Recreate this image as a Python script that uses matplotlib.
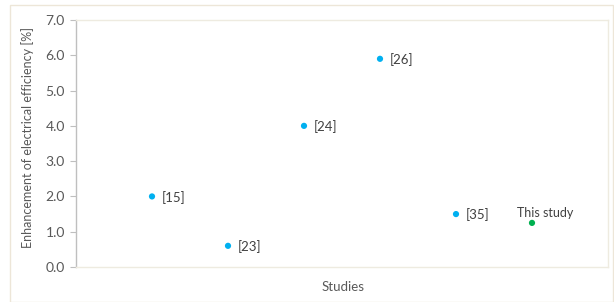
import matplotlib
matplotlib.use("Agg")
import matplotlib.pyplot as plt
from matplotlib.patches import Rectangle

plt.rcParams['font.family'] = ['Lato', 'DejaVu Sans']

studies = ["[15]", "[23]", "[24]", "[26]", "[35]", "This study"]
x_pos = [1, 2, 3, 4, 5, 6]
enh = [2.0, 0.6, 4.0, 5.9, 1.5, 1.25]
colors = ["#00B0F0"] * 5 + ["#00B050"]
yticks = [0.0, 1.0, 2.0, 3.0, 4.0, 5.0, 6.0, 7.0]

fig = plt.figure(figsize=(6.14, 3.02), dpi=100)
W, H = 614, 302
ax = fig.add_axes([76 / W, 1 - 267 / H, (608 - 76) / W, (267 - 20) / H])

# outer chart frame
fig.patches.append(Rectangle((10 / W, 0.5 / H), (613 - 10) / W, (297 - 0.5) / H,
                             transform=fig.transFigure, fill=False,
                             edgecolor="#EDE6D8", linewidth=1.0))

ax.scatter(x_pos, enh, c=colors, s=20, zorder=3, linewidths=0)
for xi, yi, lab in zip(x_pos, enh, studies):
    if lab == "This study":
        ax.annotate(lab, (xi, yi), xytext=(-11, 4.5), textcoords="offset points",
                    ha="left", va="baseline", fontsize=9, color="#404040")
    else:
        ax.annotate(lab, (xi, yi), xytext=(7, -0.5), textcoords="offset points",
                    ha="left", va="center", fontsize=9.5, color="#404040")

ax.set_xlim(0, 7)
ax.set_ylim(0, 7)
ax.set_yticks(yticks)
ax.set_yticklabels([f"{t:.1f}" for t in yticks])
ax.set_xticks([])
ax.tick_params(axis="y", direction="out", length=4, color="#BFBFBF",
               labelcolor="#595959", labelsize=10, pad=4)
for side in ["top", "right", "bottom"]:
    ax.spines[side].set_color("#EEEBE0")
    ax.spines[side].set_linewidth(1.0)
ax.spines["left"].set_color("#BFBFBF")
ax.spines["left"].set_linewidth(1.0)

fig.text(343 / W, 1 - 287 / H, "Studies", fontsize=9.5, color="#595959",
         ha="center", va="center")
fig.text(28 / W, 1 - 137 / H, "Enhancement of electrical efficiency [%]",
         fontsize=9.0, color="#595959", rotation=90, ha="center", va="center")

fig.savefig("out.png", dpi=100)
